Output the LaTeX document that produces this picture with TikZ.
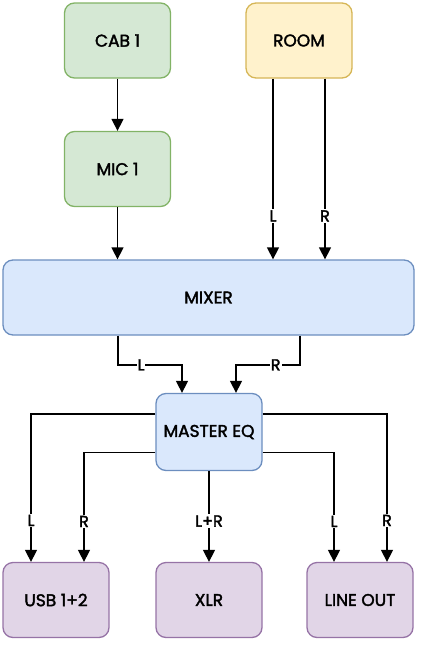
\documentclass[tikz,border=0pt]{standalone}
\usepackage{fontspec}
\setmainfont{Poppins}[FakeBold=2]
\usetikzlibrary{arrows.meta,calc}
\definecolor{gfill}{HTML}{D5E8D4}\definecolor{gdraw}{HTML}{82B366}
\definecolor{yfill}{HTML}{FFF2CC}\definecolor{ydraw}{HTML}{D6B656}
\definecolor{bfill}{HTML}{DAE8FC}\definecolor{bdraw}{HTML}{6C8EBF}
\definecolor{pfill}{HTML}{E1D5E7}\definecolor{pdraw}{HTML}{9673A6}
\tikzset{
  box/.style={rectangle, rounded corners=10pt, line width=1.3pt, minimum width=106pt, minimum height=75pt, inner sep=0pt, font=\fontsize{17}{19}\selectfont},
  gbox/.style={box, fill=gfill, draw=gdraw},
  ybox/.style={box, fill=yfill, draw=ydraw},
  bbox/.style={box, fill=bfill, draw=bdraw},
  pbox/.style={box, fill=pfill, draw=pdraw},
  arr/.style={line width=1.45pt, -{Triangle[width=12pt,length=12pt]}},
  lbl/.style={fill=white, inner sep=1pt, font=\fontsize{16}{17}\selectfont}
}
\begin{document}
\begin{tikzpicture}[x=1pt,y=-1pt]
\useasboundingbox (0,0) rectangle (421,646);
\node[gbox] (cab) at (117.5,40.5) {CAB 1};
\node[ybox] (room) at (299,40.5) {ROOM};
\node[gbox] (mic) at (117.5,169) {MIC 1};
\node[bbox, minimum width=411pt] (mixer) at (208.5,297.5) {MIXER};
\node[bbox, minimum height=77pt] (eq) at (209,432) {MASTER EQ};
\node[pbox] (usb) at (56,600) {USB 1+2};
\node[pbox] (xlr) at (209,600) {XLR};
\node[pbox] (lineout) at (360,600) {LINE OUT};
% top
\draw[arr] (cab) -- (mic);
\draw[arr] (mic.south) -- (mic.south |- mixer.north);
\draw[arr] ([xshift=-26pt]room.south) -- node[lbl,pos=0.76]{L} ([xshift=-26pt]room.south |- mixer.north);
\draw[arr] ([xshift=26pt]room.south) -- node[lbl,pos=0.76]{R} ([xshift=26pt]room.south |- mixer.north);
% mixer to eq
\coordinate (eqL) at ([xshift=-27pt]eq.north);
\coordinate (eqR) at ([xshift=27pt]eq.north);
\draw[arr] ([xshift=-90.5pt]mixer.south) |- node[lbl,pos=0.68]{L} ($(eqL)+(0,-28)$) -- (eqL);
\draw[arr] ([xshift=91.5pt]mixer.south) |- node[lbl,pos=0.69]{R} ($(eqR)+(0,-28)$) -- (eqR);
% eq to outputs
\draw[arr] ([yshift=18pt]eq.west) -| node[lbl,pos=0.86]{L} ([xshift=-25pt]usb.north);
\draw[arr] ([yshift=-20.7pt]eq.west) -| node[lbl,pos=0.815]{R} ([xshift=28pt]usb.north);
\draw[arr] (eq.south) -- node[lbl,pos=0.55]{L+R} (xlr.north);
\draw[arr] ([yshift=-20.7pt]eq.east) -| node[lbl,pos=0.815]{L} ([xshift=-26pt]lineout.north);
\draw[arr] ([yshift=18pt]eq.east) -| node[lbl,pos=0.86]{R} ([xshift=27pt]lineout.north);
\end{tikzpicture}
\end{document}
